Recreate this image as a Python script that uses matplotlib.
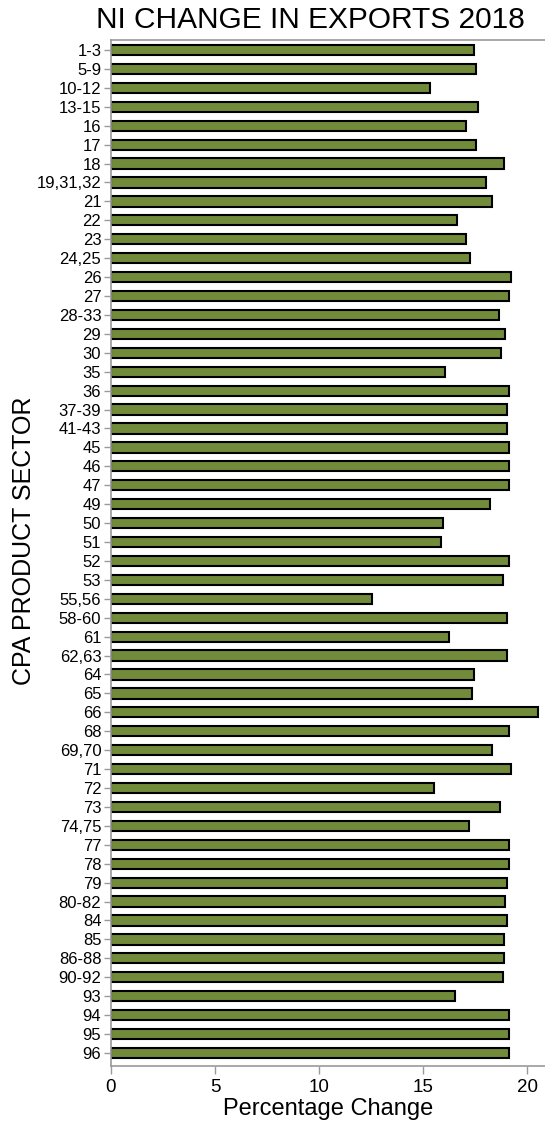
import matplotlib
matplotlib.use("Agg")
import matplotlib.pyplot as plt
import numpy as np

# CPA product sectors, top to bottom as in the chart
sectors = ["1-3", "5-9", "10-12", "13-15", "16", "17", "18", "19,31,32", "21", "22",
           "23", "24,25", "26", "27", "28-33", "29", "30", "35", "36", "37-39",
           "41-43", "45", "46", "47", "49", "50", "51", "52", "53", "55,56",
           "58-60", "61", "62,63", "64", "65", "66", "68", "69,70", "71", "72",
           "73", "74,75", "77", "78", "79", "80-82", "84", "85", "86-88", "90-92",
           "93", "94", "95", "96"]

# percentage change
pct_change = [17.42, 17.53, 15.34, 17.64, 17.04, 17.53, 18.89, 18.01, 18.32, 16.62,
              17.04, 17.23, 19.21, 19.12, 18.62, 18.91, 18.72, 16.03, 19.12, 19.01,
              19.01, 19.12, 19.12, 19.12, 18.21, 15.93, 15.83, 19.12, 18.81, 12.56,
              19.01, 16.22, 19.01, 17.44, 17.32, 20.50, 19.12, 18.32, 19.21, 15.53,
              18.69, 17.20, 19.10, 19.10, 19.01, 18.91, 19.01, 18.90, 18.90, 18.81,
              16.52, 19.10, 19.10, 19.10]

x_ticks = [0, 5, 10, 15, 20]

plt.rcParams['font.family'] = ['Liberation Sans', 'DejaVu Sans']

W, H = 545, 1128
fig = plt.figure(figsize=(W / 100, H / 100), dpi=100)

# axes box in pixels: left 111, right 545, top 40, bottom 1066
left, right, top, bottom = 111, 545, 40, 1066
ax = fig.add_axes([left / W, 1 - bottom / H, (right - left) / W, (bottom - top) / H])

pos = np.arange(len(sectors))
ax.barh(pos, pct_change, height=0.54, color='#718b3a', edgecolor='black', linewidth=1.5)

ax.set_ylim(len(sectors) - 1 + 0.69, -0.53)
ax.set_xlim(0, 20.85)

ax.set_yticks(pos)
ax.set_yticklabels(sectors, fontsize=12)
ax.set_xticks(x_ticks)
ax.set_xticklabels([str(t) for t in x_ticks], fontsize=13.5)

gray = '#9a9a9a'
ax.tick_params(axis='y', length=5, width=1, color=gray, pad=2)
ax.tick_params(axis='x', length=6, width=1, color=gray, pad=3)

for side in ['left', 'bottom', 'top']:
    ax.spines[side].set_color(gray)
    ax.spines[side].set_linewidth(1.2)
ax.spines['right'].set_visible(False)

ax.set_xlabel('Percentage Change', fontsize=17, labelpad=2)
ax.set_ylabel('CPA PRODUCT SECTOR', fontsize=18)
ax.yaxis.set_label_coords(-0.173, 0.512)

fig.text(310 / W, 1 - 20 / H, 'NI CHANGE IN EXPORTS 2018', fontsize=21.5,
         ha='center', va='center')

fig.savefig('out.png', dpi=100)
